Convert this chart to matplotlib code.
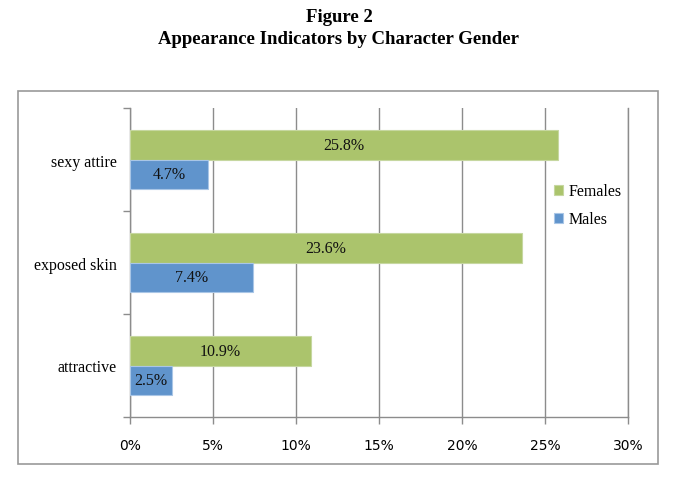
import numpy as np
import matplotlib
matplotlib.use("Agg")
import matplotlib.pyplot as plt
from matplotlib.patches import Rectangle
from matplotlib.ticker import FixedLocator, PercentFormatter

# data
categories = ["sexy attire", "exposed skin", "attractive"]
females = [25.8, 23.6, 10.9]
males = [4.7, 7.4, 2.5]
xticks = [0, 5, 10, 15, 20, 25, 30]

green = "#abc46c"
blue = "#6094cc"
grid_col = "#8c8c8c"
serif = ["Liberation Serif", "DejaVu Serif"]

fig = plt.figure(figsize=(6.78, 4.89), dpi=100)

# chart area frame
fig.patches.append(Rectangle((18 / 678, 1 - 465 / 489), 640 / 678, 373 / 489,
                             transform=fig.transFigure, fill=False,
                             edgecolor="#999999", linewidth=1.2))

ax = fig.add_axes([130 / 678, 1 - 418 / 489, 498 / 678, 309 / 489])

ypos = np.arange(len(categories))[::-1]
h = 0.287
bf = ax.barh(ypos + h / 2, females, height=h, color=green, edgecolor="#c6d7a0",
             linewidth=0.8, label="Females", zorder=3)
bm = ax.barh(ypos - h / 2, males, height=h, color=blue, edgecolor="#a9c6e6",
             linewidth=0.8, label="Males", zorder=3)

for bars, vals in [(bf, females), (bm, males)]:
    for b, v in zip(bars, vals):
        ax.text(v / 2, b.get_y() + b.get_height() / 2, f"{v:.1f}%",
                ha="center", va="center", fontsize=11.5, family=serif,
                color="#111111", zorder=4)

ax.set_xlim(0, 30)
ax.set_ylim(-0.5, 2.5)
ax.set_xticks(xticks)
ax.xaxis.set_major_formatter(PercentFormatter(decimals=0))
ax.set_yticks(ypos)
ax.set_yticklabels(categories, family=serif, fontsize=11.5)
ax.yaxis.set_minor_locator(FixedLocator([-0.5, 0.5, 1.5, 2.5]))

ax.tick_params(axis="y", which="major", length=0, pad=9.5)
ax.tick_params(axis="y", which="minor", length=5, width=1, color=grid_col,
               direction="out")
ax.tick_params(axis="x", length=5, width=1, color=grid_col, pad=10,
               labelsize=10)
ax.xaxis.grid(True, color=grid_col, linewidth=1, zorder=0)

ax.spines["top"].set_visible(False)
for s in ["left", "bottom", "right"]:
    ax.spines[s].set_color(grid_col)
    ax.spines[s].set_linewidth(1)

ax.legend(loc="center left", bbox_to_anchor=(0.822, 0.685), frameon=False,
          prop={"family": serif, "size": 11.5}, handlelength=0.6,
          handleheight=0.6, handletextpad=0.3, labelspacing=0.75)

fig.text(0.5, 1 - 18 / 489, "Figure 2", ha="center", va="center",
         fontsize=13.5, fontweight="bold", family=serif)
fig.text(0.5, 1 - 40 / 489, "Appearance Indicators by Character Gender",
         ha="center", va="center", fontsize=13.5, fontweight="bold",
         family=serif)

fig.savefig("out.png", dpi=100)
